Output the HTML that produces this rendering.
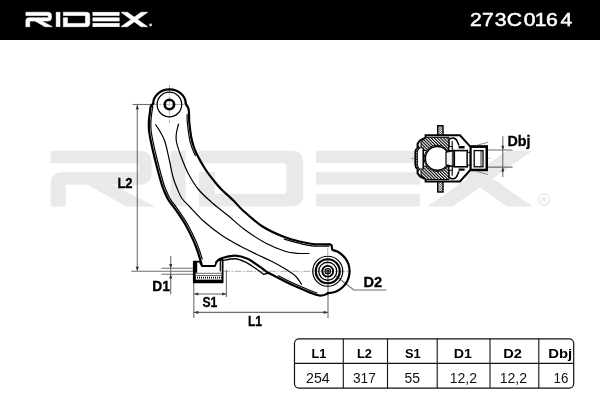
<!DOCTYPE html>
<html><head><meta charset="utf-8"><title>273C0164</title>
<style>
html,body{margin:0;padding:0;background:#fff;}
body{width:600px;height:400px;overflow:hidden;font-family:"Liberation Sans",sans-serif;}
svg{display:block;will-change:transform;transform:translateZ(0)}
.b{fill:none;stroke:#000;stroke-width:2.2;stroke-linecap:round;stroke-linejoin:round}
.m{fill:none;stroke:#000;stroke-width:1.3;stroke-linecap:round;stroke-linejoin:round}
.t{fill:none;stroke:#000;stroke-width:1.2;stroke-linecap:round}
text{font-family:"Liberation Sans",sans-serif}
.lbl{font-weight:bold;font-size:13.8px;fill:#000;stroke:#000;stroke-width:.3}
.th{font-weight:bold;font-size:13.4px;fill:#000;text-anchor:middle}
.td{font-size:14.4px;fill:#111;text-anchor:middle}
</style></head><body>
<svg width="600" height="400" viewBox="0 0 600 400">
<defs>
<pattern id="hatch" width="2.2" height="2.2" patternUnits="userSpaceOnUse" patternTransform="rotate(-45)"><rect width="2.2" height="2.2" fill="#fff"/><rect width="1.1" height="2.2" fill="#000"/></pattern>
<pattern id="hatch2" width="1.6" height="1.6" patternUnits="userSpaceOnUse" patternTransform="rotate(45)"><rect width="1.6" height="1.6" fill="#fff"/><rect width=".7" height="1.6" fill="#333"/></pattern>
</defs>
<rect width="600" height="400" fill="#fff"/>
<!-- watermark -->
<g fill="#e9e9e9" stroke="#e9e9e9" stroke-width="0">
<path d="M50.6,150.8 H139 Q151.7,150.8 151.7,163 V172.5 Q151.7,184.7 139,184.7 H65.7 V206.5 H50.6 V184 Q50.6,172.3 62.5,172.3 H135.5 Q139.2,172.3 139.2,168.8 V166.7 Q139.2,163.2 135.5,163.2 H50.6 Z"/>
<polygon points="87.5,184.7 113,184.7 155,206.5 126,206.5"/>
<rect x="170.5" y="150.8" width="15" height="55.7"/>
<path d="M198.9,150.8 H291 Q303.3,150.8 303.3,163 V194.3 Q303.3,206.5 291,206.5 H198.9 V172 H215 V193.9 H283 Q286.5,193.9 286.5,190.4 V166.7 Q286.5,163.2 283,163.2 H198.9 Z"/>
<rect x="316" y="150.8" width="104" height="12.2"/>
<rect x="316" y="172.3" width="104" height="12.3"/>
<rect x="316" y="193.9" width="104" height="12.6"/>
<polygon points="427.5,150.8 452.5,150.8 532.5,206.5 507,206.5"/>
<polygon points="507,150.8 532.5,150.8 452.5,206.5 427.5,206.5"/>
</g>
<circle cx="544" cy="199.6" r="5.6" fill="none" stroke="#e6e6e6" stroke-width="1.3"/>
<text x="544" y="202.4" font-size="7.5" font-weight="bold" fill="#e4e4e4" text-anchor="middle">R</text>
<!-- header -->
<rect width="600" height="40" fill="#000"/>
<g fill="#fff" stroke="#fff" stroke-width="0" transform="translate(25.9,12.25) scale(0.2525,0.259) translate(-50.6,-150.8)">
<g stroke-width="2.6" stroke-linejoin="miter">
<path d="M50.6,150.8 H139 Q151.7,150.8 151.7,163 V172.5 Q151.7,184.7 139,184.7 H65.7 V206.5 H50.6 V184 Q50.6,172.3 62.5,172.3 H135.5 Q139.2,172.3 139.2,168.8 V166.7 Q139.2,163.2 135.5,163.2 H50.6 Z"/>
<polygon points="87.5,184.7 113,184.7 155,206.5 126,206.5"/>
<rect x="170.5" y="150.8" width="15" height="55.7"/>
<path d="M198.9,150.8 H291 Q303.3,150.8 303.3,163 V194.3 Q303.3,206.5 291,206.5 H198.9 V172 H215 V193.9 H283 Q286.5,193.9 286.5,190.4 V166.7 Q286.5,163.2 283,163.2 H198.9 Z"/>
<rect x="316" y="150.8" width="104" height="12.2"/>
<rect x="316" y="172.3" width="104" height="12.3"/>
<rect x="316" y="193.9" width="104" height="12.6"/>
<polygon points="427.5,150.8 452.5,150.8 532.5,206.5 507,206.5"/>
<polygon points="507,150.8 532.5,150.8 452.5,206.5 427.5,206.5"/>
</g>
</g>
<circle cx="150.6" cy="25" r="1.4" fill="#ddd"/>
<text transform="scale(1.2,1)" x="391.77 401.76 412.32 422.28 436.44 445.7 455.05 467.0" y="26.2" font-size="17.6" fill="#fff" stroke="#fff" stroke-width=".5">273C0164</text>
<!-- drawing -->
<g stroke="#6e6e6e" stroke-width="1.1" fill="none">
<path d="M132.5,104.5 H152.5"/>
<path d="M137.3,105 V270.5"/>
<path d="M131.3,271.3 H193.5"/>
<path d="M161.3,268.3 H193.5 M161.3,274.3 H193.5"/>
<path d="M170.7,256 V294.3"/>
<path d="M193.8,282 V318 M226.4,270 V297"/>
<path d="M194,294 H226"/>
<path d="M194,312.4 H328"/>
<path d="M328,271 V318"/>
<path d="M336.2,276.2 L353.8,290 H386.5"/>
<path d="M487,150 H512.5 M487,167.1 H512.5 M502.8,136.2 V177"/>
</g>
<g stroke="#777" stroke-width=".6" fill="none" stroke-dasharray="7,1.5,1.5,1.5">
<path d="M169.4,85 V123 M151,104.5 H188"/>
<path d="M223,271.3 H351 M327.75,248 V271"/>
<path d="M411,158.4 H492 M437.3,145 V172"/>
</g>
<polygon points="137.3,105.0 135.7,109.3 138.9,109.3" fill="#333"/>
<polygon points="137.3,271.0 135.7,266.7 138.9,266.7" fill="#333"/>
<polygon points="170.7,268.3 169.1,264.0 172.3,264.0" fill="#333"/>
<polygon points="170.7,274.3 169.1,278.6 172.3,278.6" fill="#333"/>
<polygon points="194.0,294.0 198.3,292.4 198.3,295.6" fill="#333"/>
<polygon points="226.4,294.0 222.1,292.4 222.1,295.6" fill="#333"/>
<polygon points="194.0,312.4 198.3,310.8 198.3,314.0" fill="#333"/>
<polygon points="328.0,312.4 323.7,310.8 323.7,314.0" fill="#333"/>
<polygon points="502.8,150.0 501.2,145.7 504.4,145.7" fill="#333"/>
<polygon points="502.8,167.1 501.2,171.4 504.4,171.4" fill="#333"/>
<path d="M153.20,103.60 C152.78,104.10 151.23,105.20 150.70,106.60 C150.17,108.00 150.28,109.77 150.00,112.00 C149.72,114.23 149.17,117.00 149.00,120.00 C148.83,123.00 148.70,126.50 149.00,130.00 C149.30,133.50 149.80,136.08 150.80,141.00 C151.80,145.92 153.30,152.67 155.00,159.50 C156.70,166.33 159.50,176.83 161.00,182.00 C162.50,187.17 162.75,187.50 164.00,190.50 C165.25,193.50 166.83,197.20 168.50,200.00 C170.17,202.80 171.33,203.47 174.00,207.30 C176.67,211.13 181.42,217.80 184.50,223.00 C187.58,228.20 190.42,234.08 192.50,238.50 C194.58,242.92 195.72,246.00 197.00,249.50 C198.28,253.00 199.38,256.82 200.20,259.50 C201.02,262.18 201.62,264.58 201.90,265.60" class="b"/>
<path d="M185.80,104.00 C186.23,104.75 187.87,106.83 188.40,108.50 C188.93,110.17 188.85,111.67 189.00,114.00 C189.15,116.33 188.92,118.58 189.30,122.50 C189.68,126.42 190.60,133.58 191.30,137.50 C192.00,141.42 192.52,143.08 193.50,146.00 C194.48,148.92 195.20,151.08 197.20,155.00 C199.20,158.92 202.62,165.08 205.50,169.50 C208.38,173.92 211.83,178.17 214.50,181.50 C217.17,184.83 219.25,187.17 221.50,189.50 C223.75,191.83 225.92,193.58 228.00,195.50 C230.08,197.42 231.50,198.50 234.00,201.00 C236.50,203.50 238.25,206.25 243.00,210.50 C247.75,214.75 255.50,222.03 262.50,226.50 C269.50,230.97 278.25,234.67 285.00,237.30 C291.75,239.93 298.00,241.13 303.00,242.30 C308.00,243.47 310.58,243.97 315.00,244.30 C319.42,244.63 327.08,244.30 329.50,244.30" class="b"/>
<path d="M155.75,124.75 C156.46,125.88 158.50,128.79 160.00,131.50 C161.50,134.21 163.21,136.33 164.75,141.00 C166.29,145.67 167.88,153.50 169.25,159.50 C170.62,165.50 171.58,171.92 173.00,177.00 C174.42,182.08 176.25,186.42 177.75,190.00 C179.25,193.58 180.12,195.83 182.00,198.50 C183.88,201.17 185.33,202.17 189.00,206.00 C192.67,209.83 198.50,216.58 204.00,221.50 C209.50,226.42 216.00,231.42 222.00,235.50 C228.00,239.58 234.25,242.88 240.00,246.00 C245.75,249.12 251.50,251.83 256.50,254.25 C261.50,256.67 265.25,258.09 270.00,260.50 C274.75,262.91 280.75,266.12 285.00,268.70 C289.25,271.28 292.75,273.41 295.50,276.00 C298.25,278.59 300.50,282.88 301.50,284.25" class="t"/>
<path d="M178.50,124.00 C178.13,125.67 176.63,131.00 176.30,134.00 C175.97,137.00 175.80,138.50 176.50,142.00 C177.20,145.50 178.58,149.83 180.50,155.00 C182.42,160.17 185.00,167.25 188.00,173.00 C191.00,178.75 194.33,184.42 198.50,189.50 C202.67,194.58 208.08,199.17 213.00,203.50 C217.92,207.83 222.75,211.17 228.00,215.50 C233.25,219.83 238.25,224.92 244.50,229.50 C250.75,234.08 258.75,239.38 265.50,243.00 C272.25,246.62 279.75,249.53 285.00,251.25 C290.25,252.97 293.00,252.93 297.00,253.30 C301.00,253.68 307.00,253.47 309.00,253.50" class="t"/>
<path d="M216.20,262.50 C216.58,262.05 217.45,260.55 218.50,259.80 C219.55,259.05 219.75,258.70 222.50,258.00 C225.25,257.30 230.83,255.47 235.00,255.60 C239.17,255.72 243.33,256.87 247.50,258.75 C251.67,260.63 256.46,264.52 260.00,266.90 C263.54,269.27 265.83,271.23 268.75,273.00 C271.67,274.77 273.54,275.50 277.50,277.50 C281.46,279.50 287.50,282.67 292.50,285.00 C297.50,287.33 303.58,289.87 307.50,291.50 C311.42,293.13 313.92,294.12 316.00,294.80 C318.08,295.48 318.67,295.57 320.00,295.60 C321.33,295.63 322.58,295.40 324.00,295.00 C325.42,294.60 327.75,293.50 328.50,293.20" class="b"/>
<path d="M222.50,260.60 C224.58,260.29 231.25,258.53 235.00,258.75 C238.75,258.97 241.67,260.36 245.00,261.90 C248.33,263.44 251.88,265.92 255.00,268.00 C258.12,270.08 262.29,273.33 263.75,274.40 L268.75,273" class="m"/>
<path d="M152.70,106.10 C152.58,107.00 152.28,109.27 152.00,111.50 C151.72,113.73 151.17,116.50 151.00,119.50 C150.83,122.50 150.70,126.00 151.00,129.50 C151.30,133.00 151.80,135.58 152.80,140.50 C153.80,145.42 155.30,152.17 157.00,159.00 C158.70,165.83 161.50,176.33 163.00,181.50 C164.50,186.67 164.75,187.00 166.00,190.00 C167.25,193.00 168.83,196.70 170.50,199.50 C172.17,202.30 173.33,202.97 176.00,206.80 C178.67,210.63 183.42,217.30 186.50,222.50 C189.58,227.70 192.42,233.58 194.50,238.00 C196.58,242.42 197.72,245.50 199.00,249.00 C200.28,252.50 201.67,257.33 202.20,259.00" class="t"/>
<path d="M187.10,114.60 C187.15,116.02 187.02,119.18 187.40,123.10 C187.78,127.02 188.70,134.18 189.40,138.10 C190.10,142.02 190.62,143.68 191.60,146.60 C192.58,149.52 194.68,154.10 195.30,155.60" class="t"/>
<path d="M284.20,239.10 C287.20,239.93 297.20,242.93 302.20,244.10 C307.20,245.27 309.78,245.77 314.20,246.10 C318.62,246.43 326.28,246.10 328.70,246.10" class="t"/>
<path d="M278.40,275.80 C280.90,277.05 288.40,280.97 293.40,283.30 C298.40,285.63 304.48,288.17 308.40,289.80 C312.32,291.43 315.48,292.55 316.90,293.10" class="t"/>
<path d="M153.2,103.8 C153.2,95.8 160.5,89.4 169.5,89.4 C178.5,89.4 185.8,95.8 185.8,104" class="b"/>
<circle cx="169.4" cy="104.5" r="12.3" class="t" style="stroke-width:1.25"/>
<circle cx="169.4" cy="104.5" r="4.7" class="b" style="stroke-width:2.6"/>
<path d="M329.5,244.3 L331.6,245.2 L332.28,249.93 A21.8,21.8 0 0 1 327.75,293.05" class="b"/>
<circle cx="327.75" cy="271.25" r="15" class="t" style="stroke-width:1.2"/>
<circle cx="327.75" cy="271.25" r="12" class="b" style="stroke-width:2.2"/>
<circle cx="327.75" cy="271.25" r="9" class="t" style="stroke-width:1.3"/>
<circle cx="327.75" cy="271.25" r="5.4" class="b" style="stroke-width:1.9"/>
<circle cx="327.75" cy="271.25" r="2.7" class="t"/>
<circle cx="327.75" cy="271.25" r="1" class="t"/>
<path d="M193.8,261.7 H199.7 L201.9,266 H215 L216.2,263 L218,260.4 L222.6,259.6 V282.3 H193.8 Z" fill="#fff" stroke="#000" stroke-width="1.8" stroke-linejoin="round"/>
<rect x="193.8" y="261.7" width="3.4" height="11" fill="#000"/><rect x="193.8" y="272" width="1.8" height="9" fill="#000"/>
<rect x="194" y="279.6" width="28.4" height="2.7" fill="#000"/>
<path d="M195,273.3 H222 M195,275.5 H222" class="t" style="stroke-width:.6"/>
<path d="M195,277.7 H222" stroke="#000" stroke-width="1.8" stroke-dasharray="1,1" fill="none"/>
<path d="M220.3,260 V271" class="t" style="stroke-width:1.2"/>
<g id="bj">
<rect x="437.7" y="125.7" width="5.3" height="66.3" fill="url(#hatch2)" stroke="#000" stroke-width="1.4"/>
<path d="M425.6,135.3 H460 L470,146.3 H487 V170.3 H470 L460,181.5 H425.6 V179.2 L420.3,176.6 L417.6,173.3 V168.8 Q415.4,167.5 415.4,165 V151.8 Q415.4,149.3 417.6,148 V143.5 L420.3,140.2 L425.6,137.6 Z" fill="#fff" stroke="#000" stroke-width="2" stroke-linejoin="miter"/>
<path d="M421,141.5 L426.5,137.3 H449 V150.6 H446.2 L423.2,150.6 V166.2 H449 V179.5 H426.5 L421,175.3 Z" fill="url(#hatch)" stroke="#000" stroke-width="1"/>
<path d="M419.5,146.5 Q416.6,149.5 416.6,152 V164.8 Q416.6,167.3 419.5,170.3" fill="none" stroke="#000" stroke-width="2.6"/>
<path d="M419.5,146.5 Q416.6,149.5 416.6,152 V164.8 Q416.6,167.3 419.5,170.3" fill="none" stroke="#fff" stroke-width=".9" stroke-dasharray=".7,.9"/>
<path d="M423.2,148 V168.8 L420.3,168 Q418.6,166.5 418.6,164.5 V152.3 Q418.6,150.3 420.3,148.8 Z" fill="#fff" stroke="none"/>
<path d="M423.2,147.6 V169.2" stroke="#000" stroke-width="1.5"/>
<circle cx="437.3" cy="158.4" r="13.2" fill="#fff" stroke="#000" stroke-width="1"/>
<circle cx="437.3" cy="158.4" r="11.9" fill="#fff" stroke="#000" stroke-width="1.4"/>
<path d="M449,139.5 V150.5 M452.2,141 V150.5 M449,177.3 V166.3 M452.2,175.8 V166.3" stroke="#000" stroke-width="1.1" fill="none"/>
<rect x="449" y="146.5" width="3.2" height="4" fill="#fff" stroke="#000" stroke-width="1"/>
<rect x="449" y="166.3" width="3.2" height="4" fill="#fff" stroke="#000" stroke-width="1"/>
<path d="M446,152.2 L454,150.6 V166.6 L446,164.8 Z" fill="#f4f4f4" stroke="#000" stroke-width="1.2"/>
<path d="M452.4,151 V166.2" stroke="#000" stroke-width=".8"/>
<rect x="454.3" y="150.6" width="13" height="16.2" fill="#fff" stroke="#000" stroke-width="1.6"/>
<rect x="467.3" y="152.3" width="3" height="12.8" fill="#fff" stroke="#000" stroke-width="1"/>
<rect x="470.6" y="146.8" width="16" height="23" fill="#fff" stroke="#000" stroke-width="2.2"/>
<rect x="474.2" y="150.6" width="8.8" height="16.2" fill="#fff" stroke="#000" stroke-width="1.3"/>
<path d="M481,150.6 V166.8" stroke="#000" stroke-width=".8"/>
<path d="M449,139.6 Q451,137.6 453.5,138 Q456.5,138.6 457.5,142 L459,145.5 M449,177.2 Q451,179.2 453.5,178.8 Q456.5,178.2 457.5,174.8 L459,171.3" fill="none" stroke="#000" stroke-width="1.5"/>
<path d="M458.6,147.2 H464.6 M458.6,169.6 H464.6" stroke="#000" stroke-width="2.4"/>
<path d="M477,145.2 L488,142.3 M477,171.6 L488,174.5" stroke="#444" stroke-width=".6"/>
</g>
<g class="lbl">
<text x="117.4" y="187.75" textLength="15.2" lengthAdjust="spacingAndGlyphs">L2</text>
<text x="152.3" y="290.75" textLength="17.6" lengthAdjust="spacingAndGlyphs">D1</text>
<text x="202.4" y="306.5" textLength="14.9" lengthAdjust="spacingAndGlyphs">S1</text>
<text x="247.9" y="325.6" textLength="14.2" lengthAdjust="spacingAndGlyphs">L1</text>
<text x="363.5" y="286.75" textLength="18.6" lengthAdjust="spacingAndGlyphs">D2</text>
<text x="507.5" y="145.6" textLength="23" lengthAdjust="spacingAndGlyphs">Dbj</text>
</g>
<rect x="294.5" y="338.8" width="279.2" height="49.3" rx="4.5" ry="4.5" fill="#fff" stroke="#111" stroke-width="1.2"/>
<path d="M343.3,338.8 V388.1" stroke="#111" stroke-width="1.1"/>
<path d="M387.5,338.8 V388.1" stroke="#111" stroke-width="1.1"/>
<path d="M437.2,338.8 V388.1" stroke="#111" stroke-width="1.1"/>
<path d="M490.0,338.8 V388.1" stroke="#111" stroke-width="1.1"/>
<path d="M538.8,338.8 V388.1" stroke="#111" stroke-width="1.1"/>
<path d="M294.5,363.4 H573.7" stroke="#111" stroke-width="1.1"/>
<text x="319.0" y="357.6" class="th" textLength="14.9" lengthAdjust="spacingAndGlyphs">L1</text>
<text x="364.4" y="357.6" class="th" textLength="15.0" lengthAdjust="spacingAndGlyphs">L2</text>
<text x="412.8" y="357.6" class="th" textLength="15.7" lengthAdjust="spacingAndGlyphs">S1</text>
<text x="462.8" y="357.6" class="th" textLength="18.2" lengthAdjust="spacingAndGlyphs">D1</text>
<text x="512.5" y="357.6" class="th" textLength="18.7" lengthAdjust="spacingAndGlyphs">D2</text>
<text x="560.2" y="357.6" class="th" textLength="23.9" lengthAdjust="spacingAndGlyphs">Dbj</text>
<text x="317.9" y="382.6" class="td" textLength="23.7" lengthAdjust="spacingAndGlyphs">254</text>
<text x="364.4" y="382.6" class="td" textLength="22.9" lengthAdjust="spacingAndGlyphs">317</text>
<text x="412.2" y="382.6" class="td" textLength="15.5" lengthAdjust="spacingAndGlyphs">55</text>
<text x="463.4" y="382.6" class="td" textLength="27.4" lengthAdjust="spacingAndGlyphs">12,2</text>
<text x="513.4" y="382.6" class="td" textLength="27.4" lengthAdjust="spacingAndGlyphs">12,2</text>
<text x="560.9" y="382.6" class="td" textLength="14.8" lengthAdjust="spacingAndGlyphs">16</text>
</svg>
</body></html>
